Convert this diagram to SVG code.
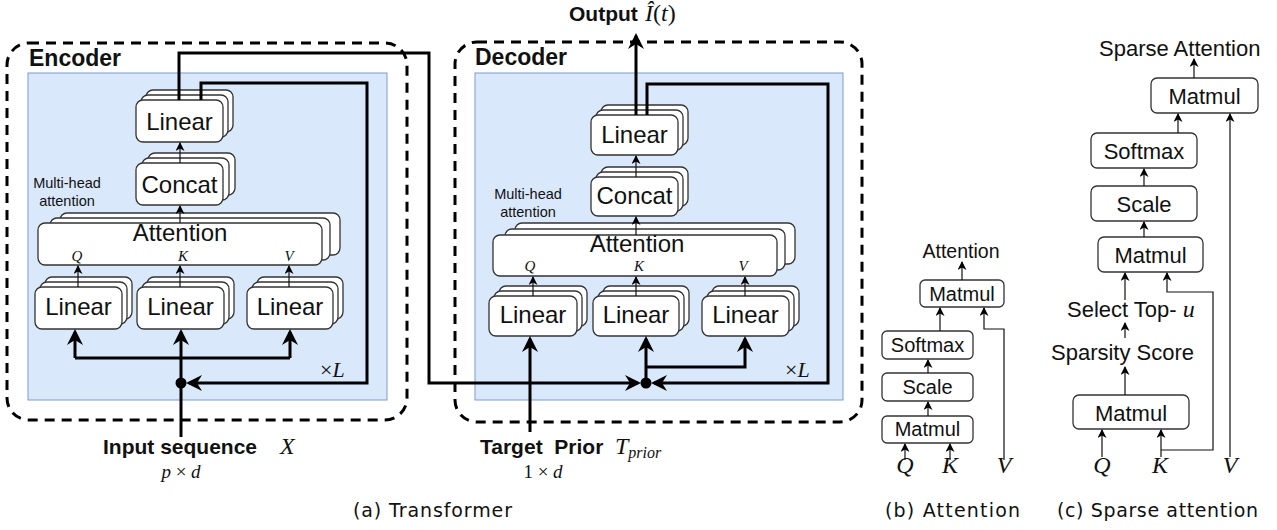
<svg xmlns="http://www.w3.org/2000/svg" width="1277" height="530" viewBox="0 0 1277 530">
<style>
.bx{fill:#fff;stroke:#333;stroke-width:1.3}
.sans{font-family:"Liberation Sans",Arial,sans-serif;fill:#111}
.b{font-weight:bold}
.m{font-family:"Liberation Serif","Times New Roman",serif;fill:#111}
.i{font-style:italic}
.cap{font-family:"DejaVu Sans",sans-serif;font-size:19px;fill:#111}
.thin{fill:none;stroke:#111;stroke-width:1.2;marker-end:url(#sm)}
.thinN{fill:none;stroke:#111;stroke-width:1.2}
.thick{fill:none;stroke:#000;stroke-width:3;marker-end:url(#big)}
.thickN{fill:none;stroke:#000;stroke-width:3}
.dash{fill:none;stroke:#000;stroke-width:3;stroke-dasharray:10 7}
.blue{fill:#dae8fc;stroke:#7c9ccc;stroke-width:1}
</style>
<defs>
<marker id="big" markerUnits="userSpaceOnUse" markerWidth="16" markerHeight="16" viewBox="0 0 16 16" refX="13" refY="8" orient="auto"><path d="M0,0 L16,8 L0,16 L5,8 z" fill="#000"/></marker>
<marker id="sm" markerUnits="userSpaceOnUse" markerWidth="9" markerHeight="9" viewBox="0 0 9 9" refX="8" refY="4.5" orient="auto"><path d="M0,0 L9,4.5 L0,9 L2.5,4.5 z" fill="#000"/></marker>
</defs>

<g id="encoder">
<rect class="dash" x="7" y="43" width="400" height="377" rx="22"/>
<rect class="blue" x="28" y="73" width="359" height="327"/>
<text class="sans b" x="29" y="66" font-size="23">Encoder</text>
<text class="sans" x="67" y="188" font-size="14.5" text-anchor="middle">Multi-head</text>
<text class="sans" x="67" y="206" font-size="14.5" text-anchor="middle">attention</text>
<text class="m" x="320" y="377" font-size="22">×<tspan class="i">L</tspan></text>
</g>
<g id="enc-linear-out">
<rect class="bx" x="146" y="90" width="87" height="42" rx="7"/>
<rect class="bx" x="141" y="95" width="87" height="42" rx="7"/>
<rect class="bx" x="136" y="100" width="87" height="42" rx="7"/>
<text class="sans" x="179.5" y="130" font-size="24" text-anchor="middle">Linear</text>
</g>
<g id="enc-concat">
<rect class="bx" x="148" y="153" width="87" height="42" rx="7"/>
<rect class="bx" x="142" y="158" width="87" height="42" rx="7"/>
<rect class="bx" x="136" y="163" width="87" height="42" rx="7"/>
<text class="sans" x="179.5" y="193" font-size="24" text-anchor="middle">Concat</text>
</g>
<g id="enc-attention">
<rect class="bx" x="60" y="213" width="280" height="42" rx="7"/>
<rect class="bx" x="50" y="218" width="280" height="42" rx="7"/>
<rect class="bx" x="38" y="223" width="284" height="42" rx="7"/>
<text class="sans" x="180" y="241" font-size="24" text-anchor="middle">Attention</text>
<text class="m i" x="77" y="261" font-size="15" text-anchor="middle">Q</text>
<text class="m i" x="183" y="261" font-size="15" text-anchor="middle">K</text>
<text class="m i" x="289" y="261" font-size="15" text-anchor="middle">V</text>
</g>
<g id="enc-linear-q">
<rect class="bx" x="45" y="277" width="87" height="42" rx="7"/>
<rect class="bx" x="40" y="282" width="87" height="42" rx="7"/>
<rect class="bx" x="35" y="287" width="87" height="42" rx="7"/>
<text class="sans" x="78.5" y="315" font-size="24" text-anchor="middle">Linear</text>
</g>
<g id="enc-linear-k">
<rect class="bx" x="147" y="277" width="87" height="42" rx="7"/>
<rect class="bx" x="142" y="282" width="87" height="42" rx="7"/>
<rect class="bx" x="137" y="287" width="87" height="42" rx="7"/>
<text class="sans" x="180.5" y="315" font-size="24" text-anchor="middle">Linear</text>
</g>
<g id="enc-linear-v">
<rect class="bx" x="257" y="277" width="86" height="42" rx="7"/>
<rect class="bx" x="252" y="282" width="86" height="42" rx="7"/>
<rect class="bx" x="247" y="287" width="86" height="42" rx="7"/>
<text class="sans" x="290" y="315" font-size="24" text-anchor="middle">Linear</text>
</g>
<g id="input-label">
<text class="sans b" x="103" y="454" font-size="21">Input sequence</text>
<text class="m i" x="280" y="454" font-size="24">X</text>
<text class="m" x="181" y="478" font-size="19" text-anchor="middle"><tspan class="i">p</tspan> × <tspan class="i">d</tspan></text>
</g>

<g id="decoder">
<rect class="dash" x="455" y="42" width="407" height="380" rx="22"/>
<rect class="blue" x="475" y="73" width="368" height="327"/>
<text class="sans b" x="475" y="65" font-size="23">Decoder</text>
<text class="sans" x="528" y="199" font-size="14.5" text-anchor="middle">Multi-head</text>
<text class="sans" x="528" y="217" font-size="14.5" text-anchor="middle">attention</text>
<text class="m" x="785" y="377" font-size="22">×<tspan class="i">L</tspan></text>
</g>
<g id="dec-linear-out">
<rect class="bx" x="601" y="105" width="87" height="40" rx="7"/>
<rect class="bx" x="596" y="110" width="87" height="40" rx="7"/>
<rect class="bx" x="591" y="115" width="87" height="40" rx="7"/>
<text class="sans" x="634.5" y="143" font-size="24" text-anchor="middle">Linear</text>
</g>
<g id="dec-concat">
<rect class="bx" x="601" y="167" width="87" height="39" rx="7"/>
<rect class="bx" x="596" y="172" width="87" height="39" rx="7"/>
<rect class="bx" x="591" y="177" width="87" height="39" rx="7"/>
<text class="sans" x="634.5" y="204" font-size="24" text-anchor="middle">Concat</text>
</g>
<g id="dec-attention">
<rect class="bx" x="515" y="223" width="280" height="41" rx="7"/>
<rect class="bx" x="505" y="229" width="280" height="41" rx="7"/>
<rect class="bx" x="493" y="235" width="284" height="41" rx="7"/>
<text class="sans" x="637" y="252" font-size="24" text-anchor="middle">Attention</text>
<text class="m i" x="530" y="271" font-size="15" text-anchor="middle">Q</text>
<text class="m i" x="639" y="271" font-size="15" text-anchor="middle">K</text>
<text class="m i" x="743" y="271" font-size="15" text-anchor="middle">V</text>
</g>
<g id="dec-linear-q">
<rect class="bx" x="499" y="286" width="88" height="40" rx="7"/>
<rect class="bx" x="494" y="291" width="88" height="40" rx="7"/>
<rect class="bx" x="489" y="296" width="88" height="40" rx="7"/>
<text class="sans" x="533" y="323" font-size="24" text-anchor="middle">Linear</text>
</g>
<g id="dec-linear-k">
<rect class="bx" x="603" y="286" width="86" height="40" rx="7"/>
<rect class="bx" x="598" y="291" width="86" height="40" rx="7"/>
<rect class="bx" x="593" y="296" width="86" height="40" rx="7"/>
<text class="sans" x="636" y="323" font-size="24" text-anchor="middle">Linear</text>
</g>
<g id="dec-linear-v">
<rect class="bx" x="712" y="286" width="87" height="40" rx="7"/>
<rect class="bx" x="707" y="291" width="87" height="40" rx="7"/>
<rect class="bx" x="702" y="296" width="87" height="40" rx="7"/>
<text class="sans" x="745.5" y="323" font-size="24" text-anchor="middle">Linear</text>
</g>
<g id="target-label">
<text class="sans b" x="480" y="454" font-size="21" xml:space="preserve">Target  Prior</text>
<text class="m i" x="615" y="454" font-size="24">T<tspan font-size="16" dy="4">prior</tspan></text>
<text class="m" x="543" y="478" font-size="19" text-anchor="middle">1 × <tspan class="i">d</tspan></text>
</g>
<g id="output-label">
<text class="sans b" x="569" y="21" font-size="21">Output</text>
<text class="m" x="645" y="21" font-size="24"><tspan class="i">Î</tspan>(<tspan class="i">t</tspan>)</text>
</g>

<g id="b-matmul2"><rect class="bx" x="920" y="280" width="84" height="27" rx="5"/><text class="sans" x="962" y="301" font-size="20" text-anchor="middle">Matmul</text></g>
<g id="b-softmax"><rect class="bx" x="882" y="331" width="91" height="28" rx="5"/><text class="sans" x="927.5" y="352" font-size="20" text-anchor="middle">Softmax</text></g>
<g id="b-scale"><rect class="bx" x="882" y="373" width="91" height="28" rx="5"/><text class="sans" x="927.5" y="394" font-size="20" text-anchor="middle">Scale</text></g>
<g id="b-matmul1"><rect class="bx" x="882" y="416" width="91" height="27" rx="5"/><text class="sans" x="927.5" y="436" font-size="20" text-anchor="middle">Matmul</text></g>
<g id="b-labels">
<text class="sans" x="961" y="258" font-size="19.5" text-anchor="middle">Attention</text>
<text class="m i" x="905" y="473" font-size="24" text-anchor="middle">Q</text>
<text class="m i" x="950" y="473" font-size="24" text-anchor="middle">K</text>
<text class="m i" x="1004" y="473" font-size="24" text-anchor="middle">V</text>
</g>

<g id="c-matmul2"><rect class="bx" x="1151" y="78" width="107" height="35" rx="6"/><text class="sans" x="1204.5" y="104" font-size="22" text-anchor="middle">Matmul</text></g>
<g id="c-softmax"><rect class="bx" x="1091" y="133" width="106" height="35" rx="6"/><text class="sans" x="1144" y="159" font-size="22" text-anchor="middle">Softmax</text></g>
<g id="c-scale"><rect class="bx" x="1091" y="186" width="106" height="35" rx="6"/><text class="sans" x="1144" y="212" font-size="22" text-anchor="middle">Scale</text></g>
<g id="c-matmul1"><rect class="bx" x="1098" y="237" width="105" height="35" rx="6"/><text class="sans" x="1150.5" y="263" font-size="22" text-anchor="middle">Matmul</text></g>
<g id="c-matmul0"><rect class="bx" x="1073" y="395" width="116" height="34" rx="6"/><text class="sans" x="1131" y="421" font-size="22" text-anchor="middle">Matmul</text></g>
<g id="c-labels">
<text class="sans" x="1099" y="56" font-size="22">Sparse Attention</text>
<text class="sans" x="1067" y="317" font-size="22">Select Top- <tspan class="m i" font-size="24">u</tspan></text>
<text class="sans" x="1051" y="360" font-size="22">Sparsity Score</text>
<text class="m i" x="1102" y="473" font-size="24" text-anchor="middle">Q</text>
<text class="m i" x="1160" y="473" font-size="24" text-anchor="middle">K</text>
<text class="m i" x="1230" y="473" font-size="24" text-anchor="middle">V</text>
</g>

<g id="captions">
<text class="cap" x="353" y="517" textLength="159" lengthAdjust="spacing">(a) Transformer</text>
<text class="cap" x="885" y="517" textLength="135" lengthAdjust="spacing">(b) Attention</text>
<text class="cap" x="1057" y="517" textLength="201" lengthAdjust="spacing">(c) Sparse attention</text>
</g>

<g id="connectors">
<path class="thin" d="M78,287 V266"/>
<path class="thin" d="M180,287 V266"/>
<path class="thin" d="M289,287 V266"/>
<path class="thin" d="M180,223 V206"/>
<path class="thin" d="M180,163 V143"/>
<path class="thick" d="M181,437 V332"/>
<path class="thickN" d="M75,358 H290"/>
<path class="thick" d="M75,358 V332"/>
<path class="thick" d="M290,358 V332"/>
<path class="thick" d="M201,100 V83 H367 V383 H189"/>
<path class="thick" d="M179,100 V53 H429 V383 H638"/>
<circle cx="181" cy="383" r="5.5" fill="#000"/>

<path class="thin" d="M533,296 V277"/>
<path class="thin" d="M636,296 V277"/>
<path class="thin" d="M745,296 V277"/>
<path class="thin" d="M636,235 V217"/>
<path class="thin" d="M636,177 V156"/>
<path class="thick" d="M530,432 V339"/>
<path class="thick" d="M646,383 V339"/>
<path class="thick" d="M646,367 H745 V339"/>
<path class="thick" d="M647,115 V84 H828 V383 H654"/>
<path class="thick" d="M636,115 V36"/>
<circle cx="646" cy="383" r="5.5" fill="#000"/>

<path class="thin" d="M962,280 V262"/>
<path class="thin" d="M940,331 V308"/>
<path class="thin" d="M928,373 V360"/>
<path class="thin" d="M928,416 V402"/>
<path class="thin" d="M905,460 V444"/>
<path class="thin" d="M950,460 V444"/>
<path class="thin" d="M1004,460 V329 H984 V308"/>

<path class="thin" d="M1194,78 V59"/>
<path class="thin" d="M1178,133 V114"/>
<path class="thin" d="M1144,186 V169"/>
<path class="thin" d="M1144,237 V222"/>
<path class="thin" d="M1125,300 V273"/>
<path class="thin" d="M1125,338 V323"/>
<path class="thin" d="M1125,395 V367"/>
<path class="thin" d="M1102,457 V430"/>
<path class="thin" d="M1161,457 V430"/>
<path class="thin" d="M1161,450 H1213 V292 H1167 V273"/>
<path class="thin" d="M1230,457 V114"/>
</g>
</svg>
